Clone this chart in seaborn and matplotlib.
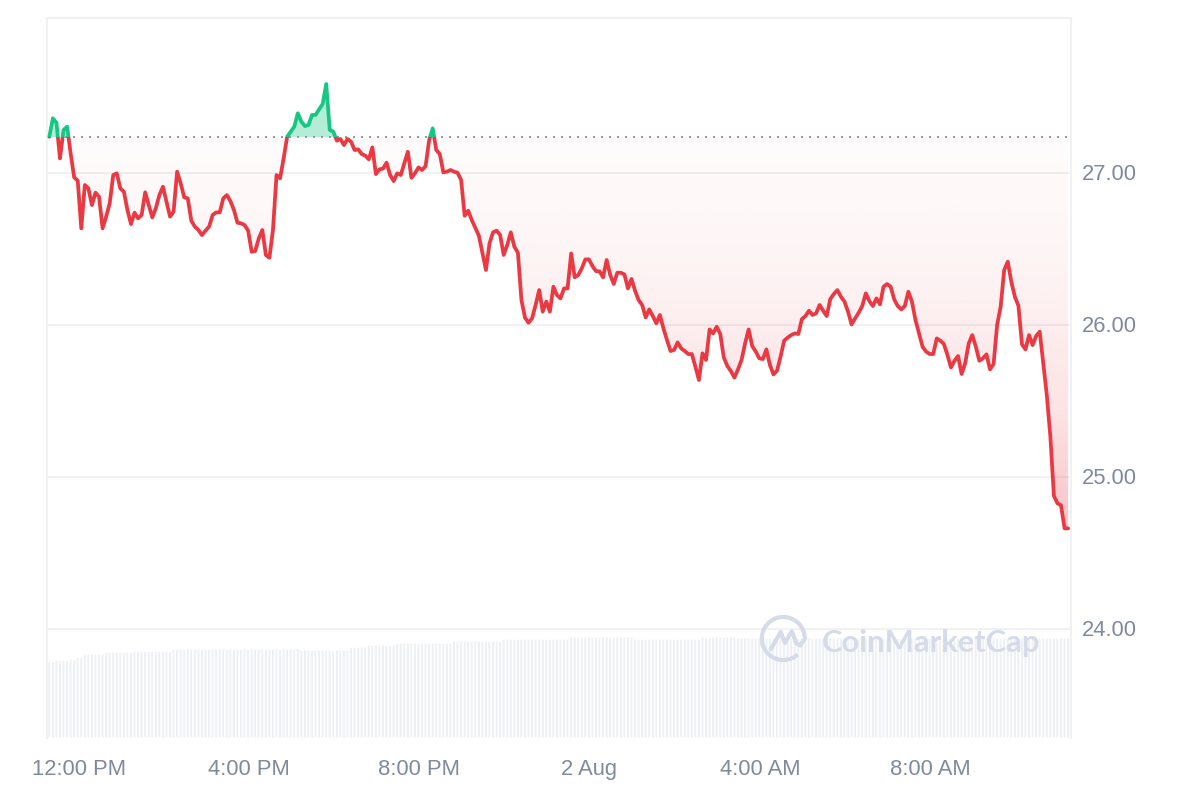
import numpy as np
import pandas as pd
import seaborn as sns
import matplotlib
matplotlib.use('Agg')
import matplotlib.pyplot as plt
from matplotlib.patches import Arc, Rectangle
from matplotlib.path import Path
from matplotlib.transforms import ScaledTranslation

# precio cada 5 minutos
prices = [
    27.239, 27.360, 27.331, 27.096, 27.283, 27.305, 27.129, 26.971, 26.950, 26.636,
    26.921, 26.899, 26.789, 26.871, 26.844, 26.636, 26.713, 26.800, 26.987, 26.998,
    26.899, 26.877, 26.757, 26.664, 26.739, 26.702, 26.724, 26.873, 26.789, 26.708,
    26.768, 26.855, 26.910, 26.811, 26.713, 26.746, 27.009, 26.932, 26.840, 26.833,
    26.686, 26.647, 26.625, 26.592, 26.621, 26.647, 26.724, 26.741, 26.741, 26.833,
    26.855, 26.816, 26.757, 26.673, 26.669, 26.658, 26.621, 26.482, 26.487, 26.570,
    26.625, 26.461, 26.443, 26.625, 26.987, 26.965, 27.096, 27.239, 27.272, 27.305,
    27.393, 27.338, 27.309, 27.316, 27.382, 27.382, 27.419, 27.454, 27.586, 27.283,
    27.272, 27.213, 27.224, 27.184, 27.224, 27.206, 27.151, 27.156, 27.125, 27.114,
    27.090, 27.169, 26.993, 27.024, 27.029, 27.068, 26.987, 26.947, 26.998, 26.987,
    27.064, 27.140, 26.969, 26.998, 27.037, 27.020, 27.046, 27.217, 27.294, 27.151,
    27.125, 27.004, 27.009, 27.020, 27.009, 27.002, 26.954, 26.719, 26.752, 26.691,
    26.640, 26.588, 26.476, 26.362, 26.537, 26.610, 26.621, 26.592, 26.461, 26.526,
    26.610, 26.515, 26.476, 26.164, 26.048, 26.015, 26.044, 26.132, 26.230, 26.088,
    26.154, 26.088, 26.252, 26.197, 26.175, 26.241, 26.241, 26.471, 26.314, 26.329,
    26.373, 26.432, 26.432, 26.388, 26.355, 26.353, 26.314, 26.428, 26.329, 26.270,
    26.344, 26.344, 26.333, 26.241, 26.303, 26.226, 26.164, 26.132, 26.050, 26.103,
    26.059, 26.011, 26.066, 25.978, 25.901, 25.829, 25.836, 25.886, 25.846, 25.829,
    25.809, 25.809, 25.726, 25.638, 25.814, 25.770, 25.971, 25.945, 25.989, 25.941,
    25.787, 25.730, 25.697, 25.654, 25.708, 25.770, 25.879, 25.971, 25.862, 25.825,
    25.781, 25.776, 25.840, 25.737, 25.675, 25.700, 25.792, 25.897, 25.917, 25.934,
    25.945, 25.941, 26.039, 26.059, 26.094, 26.066, 26.077, 26.132, 26.094, 26.059,
    26.171, 26.204, 26.230, 26.186, 26.154, 26.088, 26.004, 26.044, 26.081, 26.125,
    26.208, 26.158, 26.125, 26.175, 26.136, 26.252, 26.270, 26.252, 26.169, 26.125,
    26.103, 26.125, 26.219, 26.154, 26.033, 25.945, 25.857, 25.825, 25.809, 25.809,
    25.912, 25.897, 25.875, 25.803, 25.721, 25.765, 25.796, 25.678, 25.748, 25.879,
    25.934, 25.857, 25.765, 25.781, 25.807, 25.708, 25.743, 26.000, 26.121, 26.362,
    26.417, 26.285, 26.186, 26.127, 25.873, 25.840, 25.934, 25.868, 25.928, 25.956,
    25.748, 25.539, 25.265, 24.875, 24.827, 24.814, 24.662, 24.662,
]
# volumen relativo: nivel y cuantas barras seguidas lo mantienen
volume_levels = [76, 78, 79, 81, 84, 86, 87, 89, 90, 88, 91, 93, 95, 97, 99, 101, 99, 101, 100]
volume_runs = [2, 4, 2, 2, 6, 8, 11, 35, 1, 14, 5, 8, 16, 14, 19, 18, 19, 10, 94]

baseline = 27.237
y_ticks = [24, 25, 26, 27]
y_labels = ['24.00', '25.00', '26.00', '27.00']
x_ticks = [0, 4, 8, 12, 16, 20]
x_labels = ['12:00 PM', '4:00 PM', '8:00 PM', '2 Aug', '4:00 AM', '8:00 AM']
first_hour = -0.685
step_hours = 0.08337

RED = '#ea3943'
GREEN = '#16c784'
GRID = '#f0f1f2'
TEXT = '#808a9d'
MARK = '#d5dbe8'

df = pd.DataFrame({'price': prices})
df['hour'] = first_hour + df.index * step_hours
df['volume'] = np.repeat(volume_levels, volume_runs)

sns.set_theme(style='white')
plt.rcParams['font.family'] = ['Liberation Sans', 'DejaVu Sans']

fig = plt.figure(figsize=(12, 8), dpi=100)
rect = [47 / 1200, 1 - 738 / 800, (1071 - 47) / 1200, (738 - 18) / 800]
ax_vol = fig.add_axes(rect)
ax = fig.add_axes(rect, zorder=2)
ax.patch.set_visible(False)

x_min, x_max = -0.74, 23.31
y_min, y_max = 23.283, 28.02

# barras de volumen
sns.barplot(data=df, x='hour', y='volume', native_scale=True, color='#edf0f4',
            saturation=1, width=0.98, ax=ax_vol)
for bar in ax_vol.patches:
    bar.set_snap(False)
ax_vol.set_xlim(x_min, x_max)
ax_vol.set_ylim(0, 720)
ax_vol.axis('off')

ax.yaxis.grid(True, color=GRID, lw=1.4, zorder=0)
ax.set_axisbelow(True)

# relleno rojo con degradado por debajo de la base
fill = ax.fill_between(df['hour'], df['price'], baseline, where=df['price'] <= baseline,
                       interpolate=True, color='none', lw=0)
red_path = Path.make_compound_path(*fill.get_paths())
grad_pos = [0.0, 0.2, 0.4, 0.7, 1.0]
grad_alpha = [0.015, 0.04, 0.07, 0.14, 0.30]
grad = np.zeros((256, 1, 4))
grad[..., :3] = matplotlib.colors.to_rgb(RED)
grad[..., 3] = np.interp(np.linspace(0, 1, 256), grad_pos, grad_alpha)[:, None]
img = ax.imshow(grad, extent=[x_min, x_max, min(prices), baseline], origin='upper',
                aspect='auto', zorder=1)
img.set_clip_path(red_path, ax.transData)

ax.fill_between(df['hour'], df['price'], baseline, where=df['price'] >= baseline,
                interpolate=True, color=GREEN, alpha=0.32, lw=0, zorder=1)

ax.hlines(baseline, df['hour'].iloc[0], df['hour'].iloc[-1], color='#999999', lw=1.44,
          ls=(0, (1, 3)), zorder=2)

# misma linea dos veces, recortada en la base
sns.lineplot(data=df, x='hour', y='price', color=RED, lw=2.7, errorbar=None, ax=ax, zorder=3)
sns.lineplot(data=df, x='hour', y='price', color=GREEN, lw=2.7, errorbar=None, ax=ax, zorder=3)
low_line, high_line = ax.lines[-2], ax.lines[-1]
low_line.set_clip_path(Rectangle((x_min, y_min), x_max - x_min, baseline - y_min, transform=ax.transData))
high_line.set_clip_path(Rectangle((x_min, baseline), x_max - x_min, y_max - baseline, transform=ax.transData))
for line in (low_line, high_line):
    line.set_solid_joinstyle('round')

ax.set_xlim(x_min, x_max)
ax.set_ylim(y_min, y_max)
ax.set_xlabel('')
ax.set_ylabel('')
ax.set_xticks(x_ticks, x_labels)
ax.set_yticks(y_ticks, y_labels)
ax.yaxis.tick_right()
ax.tick_params(axis='both', length=0, labelsize=15.8, labelcolor=TEXT)
ax.tick_params(axis='x', pad=15)
ax.tick_params(axis='y', pad=8)
# subir un pixel las etiquetas del eje y
for label in ax.get_yticklabels():
    label.set_transform(label.get_transform() + ScaledTranslation(0, 1 / 100, fig.dpi_scale_trans))
for side in ['top', 'left', 'right']:
    ax.spines[side].set_visible(True)
    ax.spines[side].set_color(GRID)
    ax.spines[side].set_linewidth(1.5)
ax.spines['bottom'].set_visible(False)

# marca de agua
over = fig.add_axes([0, 0, 1, 1], zorder=3)
over.set_xlim(0, 1200)
over.set_ylim(800, 0)
over.axis('off')
over.add_patch(Arc((783.3, 638.5), 43, 43, theta1=48, theta2=358, color=MARK, lw=3))
over.plot([770.7, 780.7, 783, 785, 791.7, 794, 796, 800, 805], [649.3, 632, 638, 643, 631.5, 637, 643, 645.5, 638.5],
          color=MARK, lw=3, solid_joinstyle='round', solid_capstyle='round')
over.text(822, 643, 'CoinMarketCap', family='Lato', fontweight='bold', fontsize=22.2,
          color=MARK, ha='left', va='center')

fig.savefig('out.png', dpi=100)
